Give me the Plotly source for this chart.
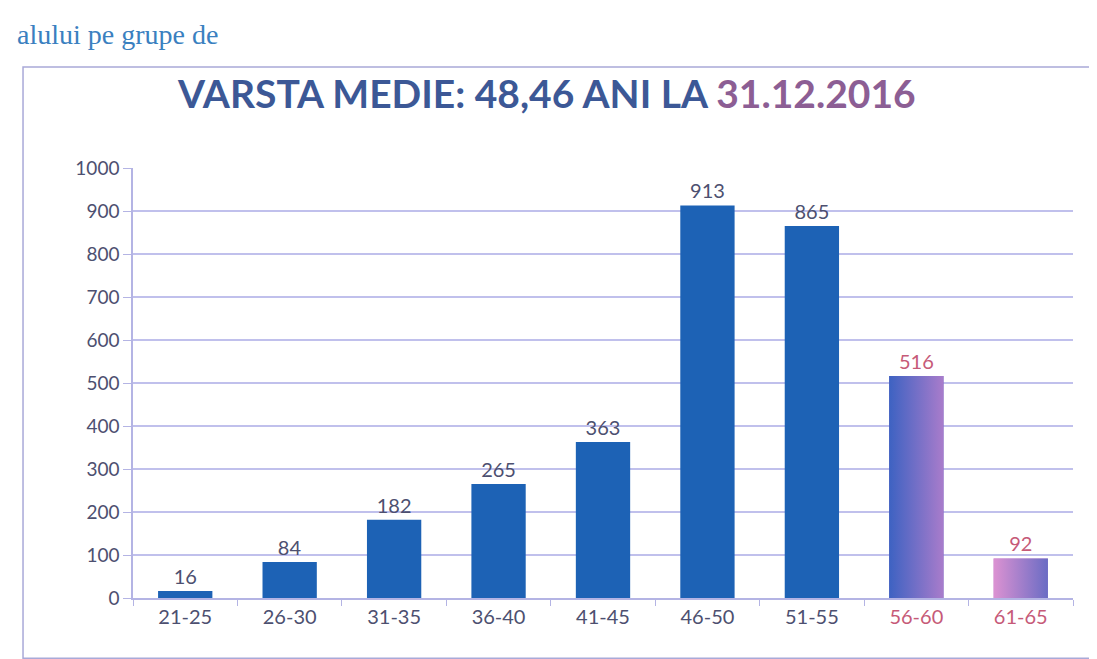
import plotly.graph_objects as go

# age groups and number of people in each group
categories = ["21-25", "26-30", "31-35", "36-40", "41-45", "46-50", "51-55", "56-60", "61-65"]
values = [16, 84, 182, 265, 363, 913, 865, 516, 92]
y_ticks = [0, 100, 200, 300, 400, 500, 600, 700, 800, 900, 1000]

bar_colors = ["#1d62b5"] * 7 + ["#6b63c4", "#c58ad4"]
label_colors = ["#4d5070"] * 7 + ["#c65a78", "#c65a78"]
# horizontal gradients for the last two bars (left -> right)
gradients = {7: ["#3d62c2", "#a97ccb"], 8: ["#dc92d2", "#6a6cc4"]}

BARGAP = 0.48

fig = go.Figure()

fig.add_trace(go.Bar(
    x=categories,
    y=values,
    marker=dict(color=bar_colors, line=dict(width=0)),
    text=values,
    textposition="outside",
    textfont=dict(family="Lato", size=20, color=label_colors),
    cliponaxis=False,
))

# gradient overlays on a hidden linear axis aligned with the categories
half = (1 - BARGAP) / 2
for i, cols in gradients.items():
    v = values[i]
    fig.add_trace(go.Scatter(
        x=[i - half, i + half, i + half, i - half, i - half],
        y=[0, 0, v, v, 0],
        xaxis="x2",
        mode="lines",
        line=dict(width=0),
        fill="toself",
        fillgradient=dict(type="horizontal", colorscale=[[0, cols[0]], [1, cols[1]]]),
        hoverinfo="skip",
    ))

fig.update_layout(
    width=1097,
    height=659,
    margin=dict(l=125, r=32, t=160, b=69),
    paper_bgcolor="white",
    plot_bgcolor="white",
    showlegend=False,
    bargap=BARGAP,
    font=dict(family="Lato", color="#4d5070"),
    xaxis2=dict(overlaying="x", range=[-0.5, len(categories) - 0.5],
                visible=False, showgrid=False),
)

# tick labels: last two groups printed in pink
tick_text = [
    c if i < 7 else f"<span style='color:#c65a78'>{c}</span>"
    for i, c in enumerate(categories)
]

fig.update_layout(xaxis=dict(
    tickmode="array",
    tickvals=categories,
    ticktext=tick_text,
    tickfont=dict(family="Lato", size=20, color="#4d5070"),
    showline=True,
    linecolor="#b4b4e4",
    linewidth=1.5,
    ticks="outside",
    tickcolor="#b4b4e4",
    ticklen=6,
    tickson="boundaries",
    showgrid=False,
    range=[-0.5, len(categories) - 0.5],
))

fig.update_yaxes(
    range=[0, 1000],
    tickvals=y_ticks,
    tickfont=dict(family="Lato", size=19, color="#4d5070"),
    showgrid=True,
    gridcolor="#c0c0ec",
    gridwidth=1.5,
    showline=True,
    linecolor="#b4b4e4",
    linewidth=1.5,
    ticks="outside",
    tickcolor="#b4b4e4",
    ticklen=8,
    zeroline=False,
)

# chart frame
fig.add_shape(
    type="rect", xref="paper", yref="paper",
    x0=-0.117, x1=1.021, y0=-0.14, y1=1.235,
    line=dict(color="#a9a9d8", width=1.5),
    layer="below",
)

# title in two colours
fig.add_annotation(
    text="<b>VARSTA MEDIE: 48,46 ANI LA <span style='color:#8c5e94'>31.12.2016</span></b>",
    xref="paper", yref="paper",
    x=0.44, y=1.175, xanchor="center", yanchor="middle",
    showarrow=False,
    font=dict(family="Lato", size=39, color="#3c5896"),
)

# fragment of the page text above the chart
fig.add_annotation(
    text="alului pe grupe de",
    xref="paper", yref="paper",
    x=-0.126, y=1.31, xanchor="left", yanchor="middle",
    showarrow=False,
    font=dict(family="Liberation Serif", size=28, color="#3a80c0"),
)

fig.write_html("out.html")
